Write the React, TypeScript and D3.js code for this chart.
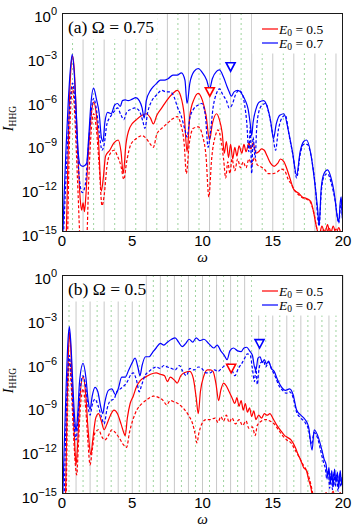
import * as d3 from "d3";

// spectra as [omega, log10(I_HHG)]

// (a) Omega = 0.75
const aRedSolid: [number, number][] = [
  [0.3, -15.5], [0.4, -11], [0.5, -7], [0.62, -4], [0.75, -2.95], [0.88, -4], [1.0, -6.5], [1.15, -10],
  [1.3, -12.8], [1.4, -13.5], [1.5, -13.0], [1.6, -13.6], [1.7, -12.5], [1.85, -10], [2.05, -7.3],
  [2.25, -6.1], [2.45, -7.0], [2.6, -8.8], [2.8, -12.2], [2.95, -11.2], [3.1, -9.8], [3.4, -9.4],
  [3.7, -8.9], [4.0, -8.7], [4.2, -9.5], [4.36, -11.0], [4.55, -9.0], [4.85, -7.8], [5.3, -7.3],
  [5.7, -7.0], [6.0, -6.9], [6.3, -7.2], [6.5, -7.6], [6.75, -7.0], [7.1, -6.5], [7.45, -6.0],
  [7.9, -5.5], [8.2, -5.3], [8.45, -5.7], [8.7, -7.0], [8.9, -9.5], [9.1, -7.0], [9.4, -5.9],
  [9.7, -5.5], [10.0, -6.0], [10.25, -7.0], [10.5, -8.7], [10.7, -7.6], [11.0, -6.9], [11.2, -7.3],
  [11.4, -8.2], [11.55, -9.6], [11.7, -8.8], [11.85, -9.9], [12.0, -9.0], [12.15, -10.0], [12.3, -9.2],
  [12.45, -9.8], [12.6, -9.1], [12.8, -9.6], [12.95, -9.0], [13.1, -9.5], [13.3, -8.9], [13.45, -9.3],
  [13.6, -8.9], [13.8, -9.6], [14.0, -9.5], [14.2, -9.3], [14.4, -9.4], [14.6, -9.8], [14.85, -10.3],
  [15.1, -10.5], [15.35, -10.3], [15.55, -10.0], [15.8, -10.2], [16.05, -10.8], [16.25, -11.4],
  [16.5, -12.1], [16.85, -12.35], [17.1, -12.6], [17.4, -12.7], [17.7, -12.9], [17.9, -13.6],
  [18.1, -14.6], [18.3, -15.2], [18.5, -14.6], [18.7, -15.1], [18.9, -14.5], [19.1, -15.2],
  [19.3, -14.6], [19.5, -15.1], [19.7, -14.7], [19.9, -15.2], [20, -14.9],
];
const aRedDashed: [number, number][] = [
  [0.4, -15.5], [0.5, -10], [0.62, -6.5], [0.75, -5.1], [0.88, -6.5], [1.0, -9], [1.15, -12.5],
  [1.3, -15.5], [1.75, -15.5], [1.9, -11.5], [2.05, -8.5], [2.25, -6.9], [2.45, -8.0], [2.65, -10.5],
  [2.85, -13.2], [3.0, -12.5], [3.2, -10.5], [3.45, -9.6], [3.7, -9.4], [3.95, -9.8], [4.2, -10.5],
  [4.4, -11.4], [4.6, -10.2], [4.9, -9.0], [5.3, -8.6], [5.7, -8.4], [6.0, -8.6], [6.3, -9.0],
  [6.5, -9.2], [6.75, -8.3], [7.1, -7.9], [7.45, -7.6], [7.8, -7.3], [8.2, -7.1], [8.45, -7.6],
  [8.7, -9.0], [8.85, -11.0], [9.05, -9.0], [9.35, -7.9], [9.7, -7.8], [10.0, -8.4], [10.25, -9.8],
  [10.45, -12.6], [10.65, -10.0], [10.95, -8.3], [11.1, -8.0], [11.3, -8.6], [11.5, -10.0],
  [11.65, -11.3], [11.8, -10.2], [11.95, -11.0], [12.1, -10.0], [12.3, -10.8], [12.5, -10.0],
  [12.7, -10.6], [12.9, -10.2], [13.1, -10.6], [13.3, -10.0], [13.5, -10.4], [13.7, -9.9],
  [13.9, -10.4], [14.1, -10.5], [14.4, -10.7], [14.7, -11.0], [15.0, -11.0], [15.3, -10.9],
  [15.6, -10.7], [15.85, -10.8], [16.1, -11.4], [16.3, -11.7], [16.6, -12.2], [16.9, -12.5],
  [17.2, -12.7], [17.5, -12.8], [17.75, -13.1], [17.95, -13.8], [18.15, -14.8], [18.35, -15.3],
  [18.6, -14.8], [18.8, -15.2], [19.0, -14.7], [19.25, -15.3], [19.5, -14.8], [19.75, -15.3], [20, -15],
];
const aBlueSolid: [number, number][] = [
  [0.05, -15.5], [0.15, -12.5], [0.3, -9], [0.45, -6], [0.6, -3.8], [0.73, -2.83], [0.85, -3.8],
  [1.0, -6.5], [1.15, -9.5], [1.3, -10.4], [1.5, -10.5], [1.75, -10.3], [1.9, -8.5], [2.05, -6.3],
  [2.25, -5.15], [2.45, -5.9], [2.65, -6.9], [2.8, -8.5], [2.92, -8.8], [3.05, -7.5], [3.25, -6.8],
  [3.5, -6.9], [3.75, -6.3], [3.95, -6.2], [4.15, -6.4], [4.3, -6.0], [4.5, -5.95], [4.7, -6.0],
  [5.0, -5.9], [5.25, -5.8], [5.5, -6.0], [5.7, -6.5], [5.85, -7.2], [6.0, -6.0], [6.3, -5.3],
  [6.5, -5.05], [6.75, -4.8], [7.0, -4.6], [7.3, -4.6], [7.55, -4.5], [7.9, -4.25], [8.2, -4.25],
  [8.5, -4.1], [8.75, -4.6], [8.9, -6.2], [9.1, -4.8], [9.4, -4.0], [9.7, -3.8], [10.0, -4.1],
  [10.3, -4.6], [10.5, -5.2], [10.7, -4.5], [11.0, -4.0], [11.2, -3.9], [11.5, -4.4], [11.75, -5.05],
  [11.9, -5.4], [12.05, -5.7], [12.25, -5.4], [12.5, -5.3], [12.7, -5.4], [12.9, -5.7], [13.05, -6.0],
  [13.25, -6.6], [13.4, -7.6], [13.5, -8.4], [13.6, -7.5], [13.8, -6.6], [14.05, -6.1], [14.35, -6.0],
  [14.6, -6.4], [14.85, -7.4], [15.05, -8.6], [15.25, -7.6], [15.5, -7.0], [15.8, -6.9], [16.1, -8.0],
  [16.4, -9.5], [16.7, -11.1], [16.95, -9.5], [17.2, -8.8], [17.4, -8.7], [17.7, -9.6], [17.95, -11.3],
  [18.2, -13.5], [18.3, -14.5], [18.45, -12.0], [18.65, -11.0], [18.9, -10.75], [19.15, -11.3],
  [19.4, -12.5], [19.6, -14.0], [19.7, -14.3], [19.8, -13.0], [19.87, -12.6], [19.95, -14.0], [20, -14.2],
];
const aBlueDashed: [number, number][] = [
  [0.1, -15.5], [0.25, -12], [0.45, -8], [0.6, -5.8], [0.75, -4.8], [0.9, -5.8], [1.05, -8.5],
  [1.25, -11.5], [1.45, -12.3], [1.65, -11.8], [1.85, -9.5], [2.05, -7], [2.25, -5.85], [2.45, -6.6],
  [2.65, -8.2], [2.85, -9.4], [3.0, -9.0], [3.2, -7.6], [3.45, -7.1], [3.75, -6.7], [3.95, -6.5],
  [4.2, -7.0], [4.4, -7.3], [4.6, -6.8], [4.9, -6.6], [5.2, -6.5], [5.5, -6.7], [5.75, -7.4],
  [5.9, -7.9], [6.1, -6.8], [6.4, -6.0], [6.75, -5.6], [7.1, -5.3], [7.4, -5.4], [7.7, -5.4],
  [8.0, -5.8], [8.2, -6.4], [8.5, -7.1], [8.75, -8.0], [8.9, -8.5], [9.1, -7.2], [9.35, -6.6],
  [9.7, -6.3], [9.95, -6.2], [10.2, -7.0], [10.4, -9.2], [10.55, -8.3], [10.75, -6.5], [11.0, -5.5],
  [11.2, -5.2], [11.45, -5.6], [11.7, -6.0], [11.9, -6.5], [12.1, -6.3], [12.35, -5.6], [12.6, -5.3],
  [12.85, -5.6], [13.0, -6.3], [13.15, -7.5], [13.3, -9.5], [13.4, -7.8], [13.5, -11.0], [13.6, -8.5],
  [13.75, -9.9], [13.85, -8.0], [14.0, -6.8], [14.25, -6.3], [14.5, -6.2], [14.75, -7.0], [15.0, -8.3],
  [15.2, -9.4], [15.4, -8.0], [15.65, -7.2], [15.9, -7.0], [16.15, -8.3], [16.45, -9.8], [16.7, -11.3],
  [16.95, -9.7], [17.2, -9.0], [17.45, -9.0], [17.75, -9.9], [18.0, -11.6], [18.3, -14.6],
  [18.45, -12.3], [18.65, -11.2], [18.9, -11.0], [19.15, -11.6], [19.45, -12.9], [19.7, -14.4],
  [19.85, -13.0], [20, -14.5],
];

// (b) Omega = 0.5
const bRedSolid: [number, number][] = [
  [0.25, -15.5], [0.35, -9.5], [0.45, -5.5], [0.53, -3.9], [0.62, -5.0], [0.75, -8.0], [0.9, -11.5],
  [1.0, -13.0], [1.1, -11.8], [1.25, -8.8], [1.5, -6.96], [1.7, -8.3], [1.85, -10.5], [2.05, -12.3],
  [2.2, -11.2], [2.4, -9.8], [2.6, -9.5], [2.8, -10.0], [3.0, -10.6], [3.2, -10.2], [3.45, -9.6],
  [3.7, -9.25], [3.95, -9.5], [4.2, -10.2], [4.4, -10.8], [4.5, -11.0], [4.65, -9.8], [4.85, -8.8],
  [5.07, -8.3], [5.3, -7.65], [5.6, -7.2], [6.0, -6.96], [6.3, -6.8], [6.7, -6.7], [7.0, -6.8],
  [7.3, -6.9], [7.5, -7.3], [7.7, -7.0], [8.0, -7.2], [8.2, -7.4], [8.45, -6.9], [8.7, -6.7],
  [9.1, -6.6], [9.35, -7.1], [9.55, -8.4], [9.7, -9.5], [9.85, -8.0], [10.1, -6.9], [10.35, -6.5],
  [10.55, -6.5], [10.75, -6.6], [10.95, -7.4], [11.15, -8.6], [11.3, -7.9], [11.5, -7.4], [11.7, -7.6],
  [11.9, -8.0], [12.1, -8.4], [12.3, -8.8], [12.45, -8.4], [12.6, -9.0], [12.75, -8.6], [12.9, -9.25],
  [13.05, -8.8], [13.2, -9.4], [13.35, -9.1], [13.5, -9.7], [13.65, -9.3], [13.8, -9.9], [14.0, -9.6],
  [14.2, -9.8], [14.4, -9.5], [14.6, -9.6], [14.8, -9.5], [15.0, -9.8], [15.3, -10.3], [15.6, -10.7],
  [15.85, -11.0], [16.0, -11.1], [16.3, -11.3], [16.6, -11.8], [16.85, -12.4], [17.0, -12.7],
  [17.2, -13.2], [17.4, -13.4], [17.55, -14.0], [17.7, -14.5], [17.85, -15.3], [18.0, -16],
  [18.5, -15.6], [18.8, -14.9], [19.0, -15.5], [19.3, -14.8], [19.5, -15.6], [19.8, -14.9], [20, -15.5],
];
const bRedDashed: [number, number][] = [
  [0.3, -15.5], [0.4, -9], [0.53, -5.8], [0.65, -7.5], [0.8, -10.5], [0.95, -13.0], [1.05, -13.7],
  [1.15, -12.0], [1.3, -9.2], [1.5, -7.8], [1.7, -9.3], [1.85, -11.5], [2.0, -13.0], [2.15, -12.0],
  [2.35, -10.8], [2.6, -10.6], [2.85, -11.1], [3.05, -11.3], [3.3, -11.0], [3.55, -10.6], [3.8, -10.8],
  [4.1, -11.2], [4.35, -11.6], [4.6, -11.8], [4.8, -10.8], [5.05, -9.9], [5.35, -9.2], [5.7, -8.8],
  [6.1, -8.5], [6.5, -8.3], [6.9, -8.4], [7.2, -8.6], [7.45, -8.9], [7.7, -8.6], [8.0, -8.7],
  [8.25, -8.8], [8.5, -9.0], [8.75, -9.25], [9.0, -9.6], [9.3, -10.2], [9.5, -11.0], [9.6, -11.5],
  [9.75, -10.8], [9.95, -10.2], [10.25, -9.9], [10.55, -9.9], [10.9, -9.8], [11.1, -10.1], [11.3, -9.7],
  [11.5, -10.0], [11.7, -9.6], [11.9, -10.1], [12.1, -9.8], [12.35, -10.2], [12.6, -9.9], [12.85, -10.3],
  [13.1, -10.0], [13.3, -10.5], [13.55, -10.4], [13.75, -11.0], [13.9, -10.3], [14.2, -10.0],
  [14.5, -9.9], [14.8, -10.0], [15.1, -10.2], [15.4, -10.6], [15.7, -11.0], [16.0, -11.3], [16.3, -11.5],
  [16.6, -12.0], [16.9, -12.5], [17.1, -12.9], [17.3, -13.2], [17.5, -13.6], [17.7, -14.3],
  [17.9, -15.2], [18.1, -16], [18.5, -15.8], [19, -15.5], [19.5, -15.7], [20, -15.4],
];
const bBlueSolid: [number, number][] = [
  [0.05, -15.5], [0.15, -12], [0.3, -7.5], [0.42, -4.6], [0.52, -3.54], [0.62, -4.5], [0.75, -7],
  [0.9, -9.8], [1.0, -10.7], [1.1, -9.8], [1.25, -7.3], [1.5, -6.05], [1.7, -7.0], [1.85, -8.5],
  [2.0, -9.2], [2.15, -8.3], [2.35, -7.7], [2.55, -8.0], [2.75, -9.0], [2.9, -9.5], [3.05, -8.7],
  [3.3, -7.9], [3.55, -7.8], [3.8, -8.2], [4.0, -7.8], [4.25, -7.0], [4.5, -7.0], [4.75, -6.5],
  [5.0, -6.0], [5.2, -5.7], [5.4, -6.3], [5.55, -6.9], [5.7, -6.2], [5.95, -5.6], [6.2, -5.6],
  [6.45, -5.3], [6.7, -5.0], [7.0, -4.68], [7.25, -4.8], [7.5, -4.6], [7.8, -4.4], [8.05, -4.3],
  [8.3, -4.6], [8.55, -4.9], [8.8, -4.7], [9.05, -4.4], [9.3, -4.6], [9.55, -4.3], [9.8, -4.5],
  [10.1, -4.4], [10.45, -4.7], [10.8, -5.0], [11.05, -4.8], [11.3, -5.2], [11.55, -5.5], [11.75, -5.8],
  [11.95, -5.2], [12.2, -5.0], [12.5, -5.2], [12.75, -5.25], [12.95, -5.0], [13.15, -4.95],
  [13.35, -5.2], [13.55, -5.5], [13.7, -6.3], [13.8, -6.5], [13.95, -5.7], [14.1, -5.6], [14.25, -6.0],
  [14.4, -5.8], [14.55, -6.1], [14.7, -5.9], [14.9, -6.4], [15.1, -6.6], [15.35, -7.2], [15.6, -7.65],
  [15.9, -7.9], [16.2, -7.8], [16.45, -8.2], [16.7, -9.25], [17.0, -9.6], [17.3, -9.9], [17.55, -10.4],
  [17.8, -12.0], [17.95, -10.6], [18.2, -11.0], [18.5, -12.0], [18.65, -12.6], [18.8, -13.0],
  [18.9, -13.8], [19.0, -13.2], [19.1, -14.3], [19.2, -13.4], [19.3, -14.5], [19.4, -13.3],
  [19.5, -14.2], [19.6, -13.5], [19.7, -14.6], [19.8, -13.4], [19.9, -14.3], [20, -13.6],
];
const bBlueDashed: [number, number][] = [
  [0.15, -15.5], [0.3, -9.5], [0.42, -6.6], [0.52, -5.5], [0.62, -6.5], [0.75, -8.5], [0.9, -10.6],
  [1.0, -11.3], [1.1, -10.4], [1.25, -8.3], [1.5, -6.9], [1.7, -7.8], [1.85, -9.0], [2.0, -9.6],
  [2.15, -8.9], [2.35, -8.5], [2.55, -8.9], [2.8, -9.7], [3.0, -10.2], [3.2, -9.2], [3.45, -8.6],
  [3.7, -8.5], [3.9, -8.0], [4.15, -7.8], [4.4, -7.6], [4.65, -7.3], [4.85, -6.9], [5.07, -6.7],
  [5.3, -7.2], [5.5, -8.0], [5.65, -7.6], [5.9, -6.9], [6.2, -6.6], [6.45, -6.4], [6.7, -6.3],
  [7.0, -6.4], [7.25, -6.2], [7.5, -6.3], [7.8, -6.4], [8.05, -6.5], [8.35, -6.2], [8.6, -6.6],
  [8.85, -6.9], [9.1, -6.4], [9.4, -6.5], [9.7, -6.3], [9.95, -6.4], [10.25, -6.7], [10.55, -6.7],
  [10.85, -6.5], [11.1, -6.6], [11.35, -6.4], [11.6, -6.2], [11.85, -6.1], [12.1, -6.5], [12.3, -6.9],
  [12.55, -6.4], [12.8, -6.05], [13.0, -5.7], [13.2, -5.4], [13.4, -5.5], [13.55, -6.4], [13.7, -7.3],
  [13.8, -6.3], [13.9, -7.5], [14.0, -6.6], [14.15, -6.0], [14.35, -5.9], [14.5, -6.3], [14.7, -6.0],
  [14.95, -6.5], [15.2, -7.0], [15.45, -7.6], [15.7, -7.9], [15.95, -8.1], [16.2, -8.0], [16.45, -8.4],
  [16.7, -9.4], [17.0, -9.8], [17.3, -10.1], [17.55, -10.6], [17.75, -11.6], [17.95, -10.8],
  [18.2, -11.2], [18.45, -12.2], [18.6, -12.8], [18.75, -13.3], [18.85, -14.0], [18.95, -13.4],
  [19.05, -14.6], [19.15, -13.6], [19.25, -14.7], [19.35, -13.5], [19.45, -14.5], [19.55, -13.7],
  [19.65, -14.8], [19.75, -13.6], [19.85, -14.5], [19.95, -13.8], [20, -14.2],
];

// cutoff markers [omega, log10 I]
const aMarkRed: [number, number] = [10.52, -5.39];
const aMarkBlue: [number, number] = [12.0, -3.68];
const bMarkRed: [number, number] = [12.04, -6.39];
const bMarkBlue: [number, number] = [14.06, -4.7];

const xTicks = [0, 5, 10, 15, 20];
const yExps = [0, -3, -6, -9, -12, -15];
const legendLabels = ["0.5", "0.7"];

const serif = "'Liberation Serif', 'Times New Roman', serif";
const sans = "'Liberation Sans', Arial, sans-serif";

const left = 62;
const right = 343;
const plotH = 219;

type Pt = [number, number];

function Panel(props: {
  id: string;
  top: number;
  tag: string;
  omega: number;
  omegaText: string;
  boxW: number;
  red: Pt[];
  redDash: Pt[];
  blue: Pt[];
  blueDash: Pt[];
  markRed: Pt;
  markBlue: Pt;
}) {
  const { top } = props;
  const bottom = top + plotH;
  const x = d3.scaleLinear().domain([0, 20]).range([left, right]);
  const y = d3.scaleLog().domain([1e-15, 1]).range([bottom, top]);
  const line = d3
    .line<Pt>()
    .x((d) => x(d[0]))
    .y((d) => y(Math.pow(10, d[1])))
    .curve(d3.curveMonotoneX);

  const nHarm = Math.floor(20 / props.omega + 1e-9);
  const harm = d3.range(1, nHarm + 1);

  const tri = (p: Pt) => {
    const cx = x(p[0]);
    const cy = y(Math.pow(10, p[1]));
    return `M${cx - 4.5},${cy - 4}L${cx + 4.5},${cy - 4}L${cx},${cy + 4.5}Z`;
  };

  const clip = `clip-${props.id}`;
  return (
    <g>
      <defs>
        <clipPath id={clip}>
          <rect x={left} y={top} width={right - left} height={plotH} />
        </clipPath>
      </defs>
      <rect x={left} y={top} width={right - left} height={plotH} fill="#fff" />
      {/* harmonic grid: odd orders dashed green, even orders solid gray */}
      {harm.map((n) => (
        <line
          key={n}
          x1={x(n * props.omega)}
          x2={x(n * props.omega)}
          y1={top}
          y2={bottom}
          stroke={n % 2 ? "#9fd49f" : "#c8c8c8"}
          strokeWidth={1}
          strokeDasharray={n % 2 ? "2,3" : undefined}
        />
      ))}
      <rect x={left + 0.5} y={top + 0.5} width={props.boxW} height={26} fill="#fff" />
      <rect x={252} y={top + 0.5} width={right - 252 - 0.5} height={40} fill="#fff" />
      <g clipPath={`url(#${clip})`} fill="none" strokeWidth={1.2}>
        <path d={line(props.redDash) || ""} stroke="#ff0000" strokeDasharray="3,2" />
        <path d={line(props.red) || ""} stroke="#ff0000" />
        <path d={line(props.blueDash) || ""} stroke="#0000ff" strokeDasharray="3,2" />
        <path d={line(props.blue) || ""} stroke="#0000ff" />
      </g>
      <path d={tri(props.markRed)} fill="#fff" stroke="#ff0000" strokeWidth={1.6} />
      <path d={tri(props.markBlue)} fill="#fff" stroke="#0000ff" strokeWidth={1.6} />
      <rect x={left + 0.5} y={top + 0.5} width={right - left - 1} height={plotH - 1} fill="none" stroke="#1a1a1a" strokeWidth={1} />

      {/* panel tag */}
      <text x={68} y={top + 20} fontFamily={serif} fontSize={17.5}>
        {props.tag + " \u03A9 = " + props.omegaText}
      </text>

      {/* legend */}
      {["#ff0000", "#0000ff"].map((c, i) => (
        <g key={c}>
          <line x1={262} x2={278} y1={top + 16 + i * 14} y2={top + 16 + i * 14} stroke={c} strokeWidth={1.2} />
          <text x={279} y={top + 20.5 + i * 14} fontFamily={serif} fontSize={13.5}>
            <tspan fontStyle="italic">E</tspan>
            <tspan fontSize={9.5} dy={2.5}>0</tspan>
            <tspan dy={-2.5}>{" = " + legendLabels[i]}</tspan>
          </text>
        </g>
      ))}

      {/* y tick labels */}
      {yExps.map((e) => (
        <text key={e} x={57} y={y(Math.pow(10, e)) + 9} textAnchor="end" fontFamily={sans} fontSize={15}>
          10
          <tspan fontSize={11} dy={-7}>
            {e === 0 ? "0" : "\u2212" + -e}
          </tspan>
        </text>
      ))}
      {/* x tick labels */}
      {xTicks.map((t) => (
        <text key={t} x={x(t)} y={bottom + 14} textAnchor="middle" fontFamily={sans} fontSize={15}>
          {t}
        </text>
      ))}
      <text x={x(10)} y={bottom + 30} textAnchor="middle" fontFamily={serif} fontStyle="italic" fontSize={15}>
        ω
      </text>
      <text transform={`translate(13,${(top + bottom) / 2 - 4}) rotate(-90)`} textAnchor="middle" fontFamily={serif} fontSize={14}>
        <tspan fontStyle="italic">I</tspan>
        <tspan fontSize={9.5} dy={3}>HHG</tspan>
      </text>
    </g>
  );
}

export default function App() {
  return (
    <svg
      width={354}
      height={528}
      style={{ position: "absolute", left: 0, top: 0, background: "#fff" }}
    >
      <Panel
        id="a"
        top={13}
        tag="(a)"
        omega={0.75}
        omegaText="0.75"
        boxW={95}
        red={aRedSolid}
        redDash={aRedDashed}
        blue={aBlueSolid}
        blueDash={aBlueDashed}
        markRed={aMarkRed}
        markBlue={aMarkBlue}
      />
      <Panel
        id="b"
        top={275}
        tag="(b)"
        omega={0.5}
        omegaText="0.5"
        boxW={80}
        red={bRedSolid}
        redDash={bRedDashed}
        blue={bBlueSolid}
        blueDash={bBlueDashed}
        markRed={bMarkRed}
        markBlue={bMarkBlue}
      />
    </svg>
  );
}
